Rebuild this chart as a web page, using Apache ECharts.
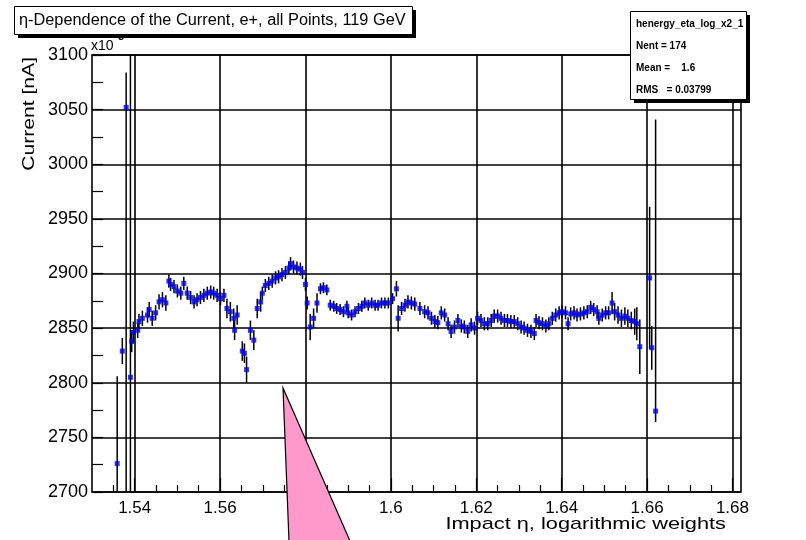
<!DOCTYPE html>
<html><head><meta charset="utf-8">
<script src="https://cdn.jsdelivr.net/npm/echarts@6/dist/echarts.min.js"></script>
<style>html,body{margin:0;padding:0;background:#fff}#c{width:806px;height:540px}</style>
</head><body><div id="c"></div>
<script>
const etaValues = [
1.5359,1.5371,1.5380,1.5390,1.5393,1.5397,1.5407,1.5410,1.5418,1.5430,
1.5434,1.5441,1.5449,1.5457,1.5465,1.5473,1.5480,1.5484,1.5492,1.5500,
1.5508,1.5515,1.5523,1.5531,1.5539,1.5546,1.5554,1.5562,1.5570,1.5578,
1.5585,1.5593,1.5601,1.5609,1.5616,1.5624,1.5632,1.5634,1.5640,1.5652,
1.5657,1.5662,1.5671,1.5679,1.5687,1.5695,1.5699,1.5706,1.5714,1.5722,
1.5730,1.5737,1.5745,1.5753,1.5761,1.5765,1.5772,1.5780,1.5788,1.5793,
1.5800,1.5804,1.5811,1.5819,1.5827,1.5835,1.5842,1.5850,1.5858,1.5866,
1.5873,1.5881,1.5889,1.5897,1.5900,1.5908,1.5916,1.5924,1.5932,1.5939,
1.5947,1.5955,1.5963,1.5970,1.5978,1.5986,1.5994,1.6004,1.6013,1.6017,
1.6025,1.6033,1.6040,1.6048,1.6056,1.6068,1.6079,1.6087,1.6095,1.6103,
1.6110,1.6118,1.6126,1.6134,1.6141,1.6149,1.6157,1.6165,1.6172,1.6180,
1.6188,1.6196,1.6203,1.6211,1.6219,1.6227,1.6235,1.6242,1.6250,1.6258,
1.6266,1.6273,1.6281,1.6289,1.6297,1.6305,1.6312,1.6320,1.6328,1.6336,
1.6340,1.6347,1.6355,1.6363,1.6370,1.6378,1.6386,1.6394,1.6401,1.6409,
1.6415,1.6421,1.6429,1.6436,1.6444,1.6452,1.6460,1.6468,1.6475,1.6483,
1.6487,1.6495,1.6503,1.6510,1.6518,1.6524,1.6532,1.6540,1.6548,1.6555,
1.6563,1.6571,1.6576,1.6583,1.6606,1.6611,1.6620];
const currentValues = [
2726,2829,3052,2805,2838,2846,2848,2856,2859,2862,
2867,2859,2864,2874,2876,2873,2893,2890,2888,2884,
2882,2891,2882,2878,2874,2876,2878,2880,2882,2883,
2882,2880,2877,2880,2868,2865,2859,2848,2862,2829,
2827,2812,2848,2839,2868,2874,2882,2889,2891,2893,
2896,2897,2899,2901,2905,2909,2906,2905,2904,2901,
2890,2873,2851,2859,2873,2886,2887,2885,2871,2870,
2868,2867,2865,2870,2864,2862,2865,2868,2870,2873,
2871,2873,2871,2871,2873,2873,2873,2877,2886,2859,
2868,2871,2874,2873,2872,2868,2865,2864,2859,2856,
2855,2864,2862,2854,2847,2851,2857,2852,2851,2847,
2853,2850,2859,2857,2854,2854,2857,2861,2861,2859,
2857,2857,2856,2856,2854,2851,2850,2848,2847,2845,
2857,2855,2854,2852,2854,2859,2862,2864,2865,2864,
2854,2863,2864,2862,2863,2864,2865,2869,2867,2865,
2859,2862,2864,2864,2873,2865,2862,2859,2861,2859,
2857,2856,2854,2833,2896,2832,2774];
const errDown = [
80,12,360,400,10,10,7,7,7,7,
7,7,7,7,7,7,6,6,6,6,
6,6,6,6,6,6,6,6,6,6,
6,6,6,6,9,9,9,9,9,9,
9,12,9,9,9,9,6,6,6,6,
6,6,6,6,6,6,6,6,6,6,
6,6,12,9,9,5,5,5,5,5,
5,5,5,5,5,5,5,5,5,5,
5,5,5,5,5,5,5,5,7,12,
6,6,6,6,6,6,6,6,6,6,
6,6,6,6,6,6,6,6,6,6,
6,6,6,6,6,6,6,6,6,6,
6,6,6,6,6,6,6,6,6,6,
6,6,6,6,6,6,6,6,6,6,
6,6,6,6,6,6,6,6,6,6,
6,6,6,6,10,8,8,8,8,8,
8,12,15,25,65,20,10];
const errUp = [
80,12,32,400,10,10,7,7,7,7,
7,7,7,7,7,7,6,6,6,6,
6,6,6,6,6,6,6,6,6,6,
6,6,6,6,9,9,9,9,9,9,
9,12,9,9,9,9,6,6,6,6,
6,6,6,6,6,6,6,6,6,6,
6,6,12,9,9,5,5,5,5,5,
5,5,5,5,5,5,5,5,5,5,
5,5,5,5,5,5,5,5,7,12,
6,6,6,6,6,6,6,6,6,6,
6,6,6,6,6,6,6,6,6,6,
6,6,6,6,6,6,6,6,6,6,
6,6,6,6,6,6,6,6,6,6,
6,6,6,6,6,6,6,6,6,6,
6,6,6,6,6,6,6,6,6,6,
6,6,6,6,10,8,8,8,8,8,
8,12,15,25,65,20,267];
const xMajorTicks = [1.54,1.56,1.58,1.60,1.62,1.64,1.66,1.68];
const xMinorTicks = [1.535,1.545,1.55,1.555,1.565,1.57,1.575,1.585,1.59,1.595,1.605,1.61,1.615,1.625,1.63,1.635,1.645,1.65,1.655,1.665,1.67,1.675];
const titleText = 'η-Dependence of the Current, e+, all Points, 119 GeV';
const statsLines = ['henergy_eta_log_x2_1','Nent = 174','Mean =    1.6','RMS   = 0.03799'];
const xTitle = 'Impact η, logarithmic weights';
const yTitle = 'Current [nA]';

const FONT = "'Liberation Sans', Arial, Helvetica, sans-serif";
const chart = echarts.init(document.getElementById('c'), null, {renderer: 'canvas'});
const errData = etaValues.map((x, i) => [x, currentValues[i], errDown[i], errUp[i]]);
const ptData = etaValues.map((x, i) => [x, currentValues[i]]);

const option = {
  animation: false,
  backgroundColor: '#fff',
  grid: {left: 92, right: 65, top: 55, bottom: 48, show: true, borderColor: '#000', borderWidth: 1.6, backgroundColor: 'transparent'},
  xAxis: [
    {type: 'value', min: 1.53, max: 1.682,
     axisLine: {show: false},
     axisTick: {customValues: xMajorTicks, inside: true, length: 14, lineStyle: {color: '#000', width: 1.2}},
     axisLabel: {customValues: xMajorTicks, color: '#000', fontFamily: FONT, fontSize: 17, margin: 8},
     splitLine: {show: true, lineStyle: {color: '#000', width: 1.6}}},
    {type: 'value', min: 1.53, max: 1.682, position: 'bottom',
     axisLine: {show: false},
     axisTick: {customValues: xMinorTicks, inside: true, length: 7, lineStyle: {color: '#000', width: 1.2}},
     axisLabel: {show: false}, splitLine: {show: false}}
  ],
  yAxis: {type: 'value', min: 2700, max: 3100, interval: 50,
    axisLine: {show: false},
    axisTick: {show: true, inside: true, length: 11, lineStyle: {color: '#000', width: 1.2}},
    minorTick: {show: true, splitNumber: 2, length: 11, lineStyle: {color: '#000', width: 1.2}},
    minorSplitLine: {show: false},
    axisLabel: {color: '#000', fontFamily: FONT, fontSize: 18, margin: 4, formatter: function (v) { return String(v); }},
    splitLine: {show: true, lineStyle: {color: '#000', width: 1.6}}},
  series: [
    {type: 'custom', xAxisIndex: 0, clip: true, z: 3,
     data: errData, encode: {x: 0, y: 1},
     renderItem: function (params, api) {
       const x = api.value(0), y = api.value(1), lo = api.value(2), hi = api.value(3);
       const p1 = api.coord([x, y - lo]);
       const p2 = api.coord([x, y + hi]);
       return {type: 'line', shape: {x1: p1[0], y1: p1[1], x2: p2[0], y2: p2[1]},
               style: {stroke: '#000', lineWidth: 1.5}};
     }},
    {type: 'scatter', xAxisIndex: 0, data: ptData, symbol: 'rect', symbolSize: 5,
     itemStyle: {color: '#0000ff'}, z: 4, clip: true}
  ],
  graphic: [
    {type: 'text', x: 91, y: 46, z: 50, style: {text: 'x10', fill: '#000', font: '14px ' + FONT, textVerticalAlign: 'middle'}},
    {type: 'text', x: 118, y: 37, z: 50, style: {text: '3', fill: '#000', font: 'bold 11px ' + FONT, textVerticalAlign: 'middle'}},
    {type: 'rect', z: 100, shape: {x: 18, y: 10, width: 398, height: 28}, style: {fill: '#000'}},
    {type: 'rect', z: 101, shape: {x: 14.5, y: 6.5, width: 398, height: 28}, style: {fill: '#fff', stroke: '#000', lineWidth: 1}},
    {type: 'text', z: 102, x: 19, y: 21, scaleX: 1.02, style: {text: titleText, fill: '#000', font: '16px ' + FONT, textVerticalAlign: 'middle'}},
    {type: 'rect', z: 100, shape: {x: 634, y: 15, width: 116, height: 88}, style: {fill: '#000'}},
    {type: 'rect', z: 101, shape: {x: 630.5, y: 11.5, width: 116, height: 88}, style: {fill: '#fff', stroke: '#000', lineWidth: 1}},
    {type: 'text', z: 102, x: 636, y: 24, style: {text: statsLines[0], fill: '#000', font: 'bold 10px ' + FONT, textVerticalAlign: 'middle'}},
    {type: 'text', z: 102, x: 636, y: 46, style: {text: statsLines[1], fill: '#000', font: 'bold 10px ' + FONT, textVerticalAlign: 'middle'}},
    {type: 'text', z: 102, x: 636, y: 68, style: {text: statsLines[2], fill: '#000', font: 'bold 10px ' + FONT, textVerticalAlign: 'middle'}},
    {type: 'text', z: 102, x: 636, y: 90, style: {text: statsLines[3], fill: '#000', font: 'bold 10px ' + FONT, textVerticalAlign: 'middle'}},
    {type: 'text', z: 102, x: 30, y: 57, rotation: Math.PI / 2, scaleX: 1.32, style: {text: yTitle, fill: '#000', font: '16px ' + FONT, textAlign: 'right', textVerticalAlign: 'middle'}},
    {type: 'text', z: 102, x: 726, y: 524, scaleX: 1.28, style: {text: xTitle, fill: '#000', font: '17px ' + FONT, textAlign: 'right', textVerticalAlign: 'middle'}},
    {type: 'polygon', z: 110, shape: {points: [[283, 388], [289, 541], [350, 541]]}, style: {fill: '#ff99cc', stroke: '#000', lineWidth: 1.2}}
  ]
};
chart.setOption(option);
</script></body></html>
